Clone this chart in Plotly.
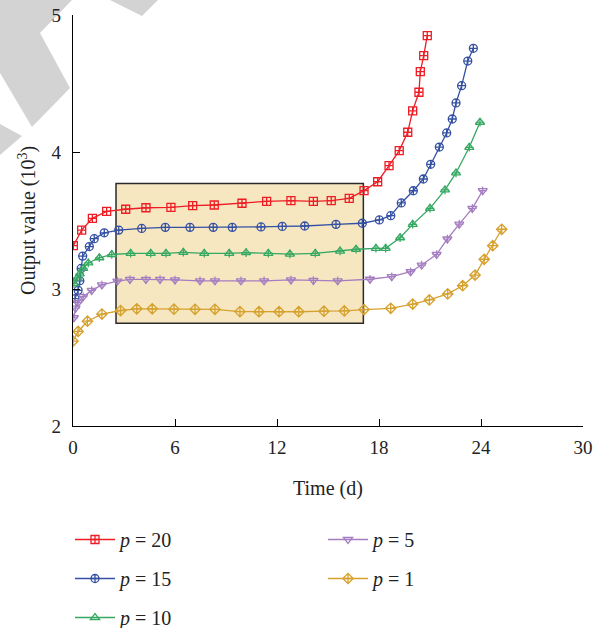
import plotly.graph_objects as go

# ---- data ----
t_p20 = [0.02, 0.51, 1.14, 1.98, 3.1, 4.29, 5.76, 7.04, 8.31, 9.94, 11.39, 12.82, 14.14, 15.19, 16.25,
         17.12, 17.92, 18.59, 19.19, 19.69, 19.98, 20.35, 20.43, 20.63, 20.84]
v_p20 = [3.316, 3.43, 3.516, 3.567, 3.582, 3.593, 3.596, 3.608, 3.613, 3.626, 3.64, 3.645, 3.64, 3.645, 3.662,
         3.718, 3.783, 3.90, 4.01, 4.144, 4.30, 4.436, 4.586, 4.703, 4.849]

t_p15 = [0.12, 0.3, 0.4, 0.48, 0.57, 0.96, 1.25, 1.84, 2.69, 4.04, 5.43, 6.88, 8.25, 9.37, 11.06, 12.31, 13.63,
         15.47, 17.02, 18.02, 18.69, 19.31, 20.02, 20.61, 21.04, 21.55, 21.98, 22.31, 22.53, 22.86, 23.22, 23.55]
v_p15 = [2.93, 2.99, 3.06, 3.15, 3.24, 3.31, 3.367, 3.41, 3.43, 3.442, 3.45, 3.45, 3.45, 3.45, 3.453, 3.457, 3.46,
         3.472, 3.48, 3.504, 3.535, 3.628, 3.717, 3.803, 3.91, 4.036, 4.139, 4.241, 4.358, 4.484, 4.664, 4.757]

t_p10 = [0.05, 0.25, 0.4, 0.6, 0.9, 1.55, 2.28, 3.39, 4.57, 5.47, 6.49, 7.72, 9.19, 10.18, 11.49, 12.76, 14.25,
         15.71, 16.65, 17.82, 18.39, 19.24, 19.98, 21.0, 21.88, 22.53, 23.31, 23.94]
v_p10 = [3.04, 3.08, 3.11, 3.15, 3.19, 3.228, 3.252, 3.26, 3.26, 3.26, 3.267, 3.26, 3.26, 3.265, 3.26, 3.255, 3.26,
         3.277, 3.29, 3.297, 3.297, 3.374, 3.472, 3.589, 3.723, 3.847, 4.034, 4.217]

t_p5 = [0.05, 0.15, 0.3, 0.6, 1.1, 1.7, 2.61, 3.35, 4.29, 5.12, 6.0, 7.47, 8.35, 9.88, 11.24, 12.82, 14.14,
        15.57, 17.47, 18.75, 19.86, 20.51, 21.39, 22.02, 22.72, 23.49, 24.1]
v_p5 = [2.79, 2.86, 2.90, 2.944, 2.99, 3.03, 3.058, 3.07, 3.07, 3.07, 3.066, 3.06, 3.06, 3.06, 3.06, 3.066, 3.063,
        3.06, 3.071, 3.09, 3.126, 3.175, 3.253, 3.365, 3.474, 3.589, 3.718]

t_p1 = [0.0, 0.3, 0.85, 1.7, 2.8, 3.75, 4.66, 5.94, 7.18, 8.35, 9.82, 10.94, 12.12, 13.28, 14.76, 15.96, 17.12,
        18.69, 19.98, 20.96, 22.04, 22.92, 23.65, 24.19, 24.69, 25.22]
v_p1 = [2.62, 2.69, 2.765, 2.817, 2.843, 2.855, 2.855, 2.853, 2.852, 2.852, 2.835, 2.834, 2.834, 2.834, 2.838,
        2.84, 2.85, 2.859, 2.89, 2.92, 2.964, 3.024, 3.102, 3.217, 3.316, 3.436]

x_ticks = [0, 6, 12, 18, 24, 30]
y_ticks = [2, 3, 4, 5]
box_x = [2.53, 17.08]
box_y = [2.75, 3.77]
x_title = "Time (d)"
y_title = "Output value (10<sup>3</sup>)"

FONT = "Liberation Serif"

series = [
    ("<i>p</i> = 20", t_p20, v_p20, "#EE1D25", "square-cross-open", None, "legend"),
    ("<i>p</i> = 15", t_p15, v_p15, "#3450A3", "circle-cross-open", None, "legend"),
    ("<i>p</i> = 10", t_p10, v_p10, "#36A862", "triangle-up-open", "cross-thin-open", "legend"),
    ("<i>p</i> = 5", t_p5, v_p5, "#A57EC1", "triangle-down-open", "cross-thin-open", "legend2"),
    ("<i>p</i> = 1", t_p1, v_p1, "#D6A12E", "diamond-cross-open", None, "legend2"),
]

fig = go.Figure()
for i, (name, t, v, col, sym, extra, leg) in enumerate(series):
    fig.add_trace(go.Scatter(
        x=t, y=v, mode="lines+markers", name=name, legend=leg, legendgroup=name,
        line=dict(color=col, width=1.3),
        marker=dict(symbol=sym, size=8, color=col, line=dict(color=col, width=1.3)),
    ))
    if extra:
        fig.add_trace(go.Scatter(
            x=t, y=v, mode="markers", showlegend=False, hoverinfo="skip",
            marker=dict(symbol=extra, size=6, color=col, line=dict(color=col, width=1.2)),
        ))

# highlight box
fig.add_shape(type="rect", xref="x", yref="y", x0=box_x[0], x1=box_x[1], y0=box_y[0], y1=box_y[1],
              fillcolor="#F6E7C1", line=dict(color="#2b2b2b", width=1.5), layer="below")

# watermark shapes (paper coords from pixels)
def P(px, py):
    return (px - 73) / 510, (426 - py) / 411

def poly(pts):
    s = ""
    for k, (px, py) in enumerate(pts):
        x, y = P(px, py)
        s += ("M" if k == 0 else "L") + f"{x:.4f},{y:.4f} "
    return s + "Z"

for pts in [
    [(0, 0), (72, 0), (40, 33), (70, 88), (32, 127), (0, 73)],
    [(0, 124), (22, 136), (0, 155)],
    [(110, 0), (158, 0), (142, 16)],
]:
    fig.add_shape(type="path", xref="paper", yref="paper", path=poly(pts),
                  fillcolor="#D3D3D3", line=dict(width=0), layer="below")

# axis titles as annotations
fig.add_annotation(text=x_title, xref="paper", yref="paper", x=0.5, y=P(0, 489)[1],
                   xanchor="center", yanchor="middle", showarrow=False,
                   font=dict(family=FONT, size=20, color="#222"))
fig.add_annotation(text=y_title, xref="paper", yref="paper", x=P(27, 0)[0], y=P(0, 221)[1],
                   xanchor="center", yanchor="middle", textangle=-90, showarrow=False,
                   font=dict(family=FONT, size=20, color="#222"))

axis_common = dict(
    showline=True, linecolor="black", linewidth=1.2, ticks="inside", ticklen=7, tickwidth=1.2,
    tickcolor="black", showgrid=False, zeroline=False, mirror=False, automargin=True,
    tickfont=dict(family=FONT, size=19, color="#222"),
)

legend_common = dict(xref="container", yref="container", xanchor="left", yanchor="top",
                     tracegroupgap=10, itemwidth=40, itemsizing="trace",
                     font=dict(family=FONT, size=20, color="#222"), bgcolor="rgba(0,0,0,0)")

fig.update_layout(
    width=608, height=628,
    margin=dict(l=73, r=25, t=15, b=202, autoexpand=False),
    paper_bgcolor="white", plot_bgcolor="rgba(0,0,0,0)",
    font=dict(family=FONT, size=17, color="#222"),
    xaxis=dict(range=[0, 30], tickvals=x_ticks, ticklabelstandoff=4, **axis_common),
    yaxis=dict(range=[2, 5], tickvals=y_ticks, ticklabelstandoff=7, **axis_common),
    legend=dict(x=70 / 608, y=1 - 520 / 628, **legend_common),
    legend2=dict(x=323 / 608, y=1 - 520 / 628, **legend_common),
    showlegend=True,
)

fig.write_html("out.html", config={"displayModeBar": False},
               post_script="document.body.style.margin='0';document.body.style.overflow='hidden';")
